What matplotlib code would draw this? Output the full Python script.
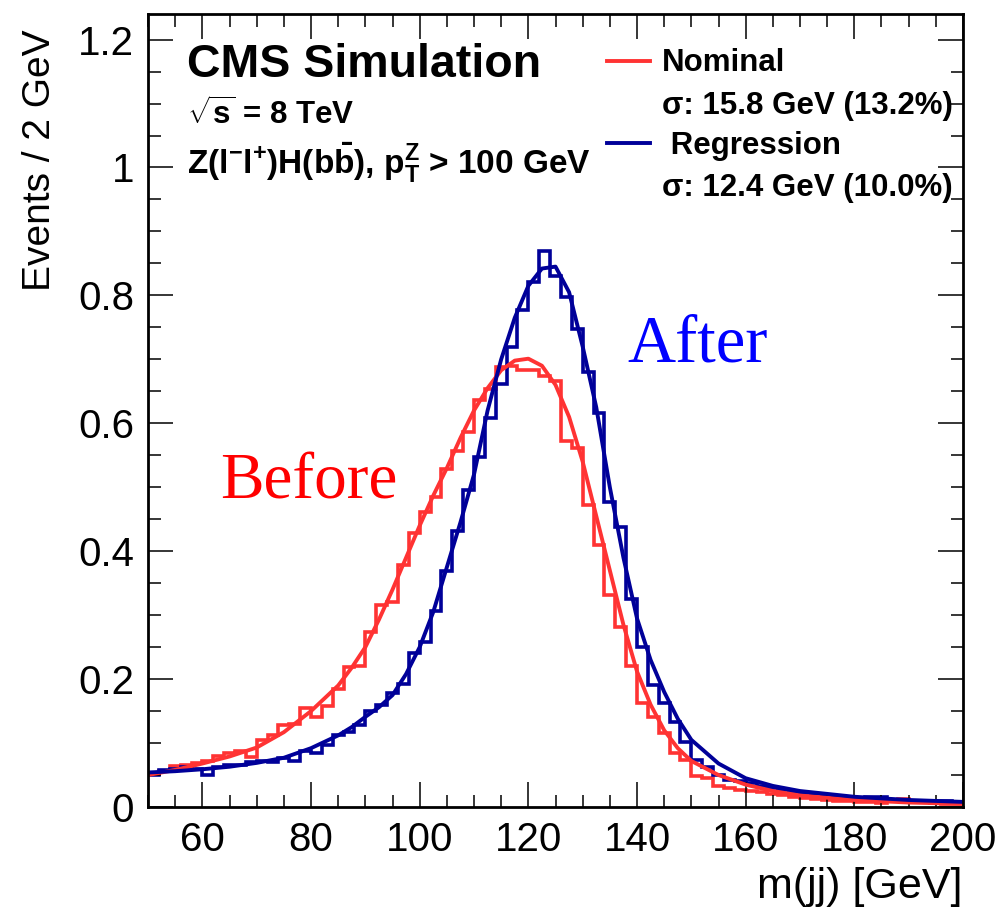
import numpy as np
import matplotlib
matplotlib.use("Agg")
import matplotlib.pyplot as plt

plt.rcParams['font.family'] = ['Liberation Sans', 'DejaVu Sans']
plt.rcParams['mathtext.fontset'] = 'custom'
plt.rcParams['mathtext.rm'] = 'Liberation Sans:bold'
plt.rcParams['mathtext.bf'] = 'Liberation Sans:bold'
plt.rcParams['mathtext.it'] = 'Liberation Sans:bold'

# m(jj) histograms, 2 GeV bins from 50 to 200 GeV
bin_edges = list(range(50, 202, 2))
nominal = [0.052, 0.056, 0.064, 0.065, 0.069, 0.072, 0.080, 0.084, 0.088, 0.078,
           0.105, 0.112, 0.128, 0.130, 0.155, 0.140, 0.158, 0.184, 0.219, 0.221,
           0.273, 0.316, 0.320, 0.378, 0.428, 0.461, 0.484, 0.528, 0.556, 0.587,
           0.636, 0.653, 0.688, 0.690, 0.683, 0.684, 0.674, 0.666, 0.573, 0.561,
           0.472, 0.409, 0.331, 0.282, 0.221, 0.163, 0.141, 0.115, 0.084, 0.073,
           0.048, 0.046, 0.033, 0.030, 0.027, 0.025, 0.023, 0.020, 0.018, 0.015,
           0.014, 0.012, 0.011, 0.010, 0.009, 0.008, 0.008, 0.007, 0.010, 0.012,
           0.008, 0.010, 0.006, 0.005, 0.005]
regression = [0.050, 0.058, 0.060, 0.062, 0.060, 0.050, 0.063, 0.065, 0.066, 0.070,
              0.072, 0.071, 0.076, 0.072, 0.087, 0.085, 0.097, 0.112, 0.118, 0.128,
              0.150, 0.160, 0.178, 0.192, 0.241, 0.258, 0.306, 0.369, 0.431, 0.495,
              0.547, 0.608, 0.662, 0.719, 0.777, 0.821, 0.870, 0.831, 0.797, 0.748,
              0.680, 0.616, 0.477, 0.438, 0.326, 0.250, 0.191, 0.163, 0.133, 0.102,
              0.073, 0.063, 0.050, 0.042, 0.040, 0.037, 0.033, 0.030, 0.027, 0.024,
              0.022, 0.020, 0.018, 0.016, 0.015, 0.013, 0.016, 0.015, 0.011, 0.011,
              0.010, 0.010, 0.009, 0.009, 0.008]

fit_x = [50, 55, 60, 65, 70, 75, 80, 85, 87.5, 90, 92.5, 95, 97.5, 100, 102.5, 105,
         107.5, 110, 112.5, 115, 117.5, 120, 122.5, 125, 127.5, 130, 132.5, 135,
         137.5, 140, 142.5, 145, 147.5, 150, 155, 160, 165, 170, 180, 190, 200]
fit_nominal = [0.050, 0.058, 0.068, 0.079, 0.093, 0.117, 0.150, 0.190, 0.218, 0.250,
               0.293, 0.340, 0.390, 0.440, 0.487, 0.530, 0.577, 0.620, 0.655, 0.683,
               0.698, 0.701, 0.690, 0.660, 0.610, 0.540, 0.455, 0.370, 0.285, 0.212,
               0.160, 0.120, 0.092, 0.072, 0.050, 0.035, 0.025, 0.018, 0.011, 0.007,
               0.005]
fit_regression = [0.054, 0.056, 0.059, 0.063, 0.069, 0.077, 0.092, 0.112, 0.125, 0.141,
                  0.156, 0.175, 0.208, 0.250, 0.305, 0.375, 0.445, 0.520, 0.620, 0.700,
                  0.765, 0.815, 0.842, 0.845, 0.805, 0.720, 0.625, 0.500, 0.390, 0.295,
                  0.230, 0.180, 0.138, 0.105, 0.068, 0.045, 0.033, 0.025, 0.016, 0.011,
                  0.008]

red = '#ff3333'
blue = '#000099'

fig = plt.figure(figsize=(10.05, 9.09), dpi=100)
ax = fig.add_axes([0.1473, 0.1122, 0.8109, 0.8724])

ax.stairs(nominal, bin_edges, baseline=None, color=red, lw=2.6)
ax.stairs(regression, bin_edges, baseline=None, color=blue, lw=2.6)
ax.plot(fit_x, fit_nominal, color=red, lw=2.8)
ax.plot(fit_x, fit_regression, color=blue, lw=2.8)

ax.set_xlim(50, 200)
ax.set_ylim(0, 1.24)
ax.set_xticks(np.arange(60, 201, 20))
ax.set_xticks(np.arange(50, 201, 5), minor=True)
ax.set_yticks(np.arange(0, 1.21, 0.2))
ax.set_yticklabels(['0', '0.2', '0.4', '0.6', '0.8', '1', '1.2'])
ax.set_yticks(np.arange(0, 1.24, 0.05), minor=True)
ax.tick_params(which='both', direction='in', top=True, right=True, width=1.1,
               labelsize=29)
ax.tick_params(which='major', length=18, pad=10)
ax.tick_params(which='minor', length=9)
for s in ax.spines.values():
    s.set_linewidth(2)

ax.set_xlabel('m(jj) [GeV]', fontsize=31, loc='right', labelpad=6)
ax.set_ylabel('Events / 2 GeV', fontsize=28)
ax.yaxis.set_label_coords(-0.11, 0.816)

ax.text(0.048, 0.936, 'CMS Simulation', transform=ax.transAxes, fontsize=33.5,
        fontweight='bold', va='center')
ax.text(0.048, 0.872, r'$\sqrt{s}$ = 8 TeV', transform=ax.transAxes, fontsize=22.5,
        fontweight='bold', va='center')
ax.text(0.048, 0.812, r'Z(l$^{-}$l$^{+}$)H(b$\bar{b}$), p$_{T}^{Z}$ > 100 GeV',
        transform=ax.transAxes, fontsize=24, fontweight='bold', va='center')

# legend
ax.plot([0.563, 0.616], [0.941, 0.941], color=red, lw=2.8, transform=ax.transAxes)
ax.plot([0.563, 0.616], [0.837, 0.837], color=blue, lw=2.8, transform=ax.transAxes)
ax.text(0.631, 0.938, 'Nominal', transform=ax.transAxes, fontsize=22.5,
        fontweight='bold', va='center')
ax.text(0.631, 0.884, 'σ: 15.8 GeV (13.2%)', transform=ax.transAxes, fontsize=22.5,
        fontweight='bold', va='center')
ax.text(0.631, 0.834, ' Regression', transform=ax.transAxes, fontsize=22.5,
        fontweight='bold', va='center')
ax.text(0.631, 0.780, 'σ: 12.4 GeV (10.0%)', transform=ax.transAxes, fontsize=22.5,
        fontweight='bold', va='center')

ax.text(0.088, 0.409, 'Before', transform=ax.transAxes, fontsize=47,
        family='Liberation Serif', color='red', va='center')
ax.text(0.588, 0.583, 'After', transform=ax.transAxes, fontsize=48,
        family='Liberation Serif', color='blue', va='center')

fig.savefig('out.png', dpi=100)
